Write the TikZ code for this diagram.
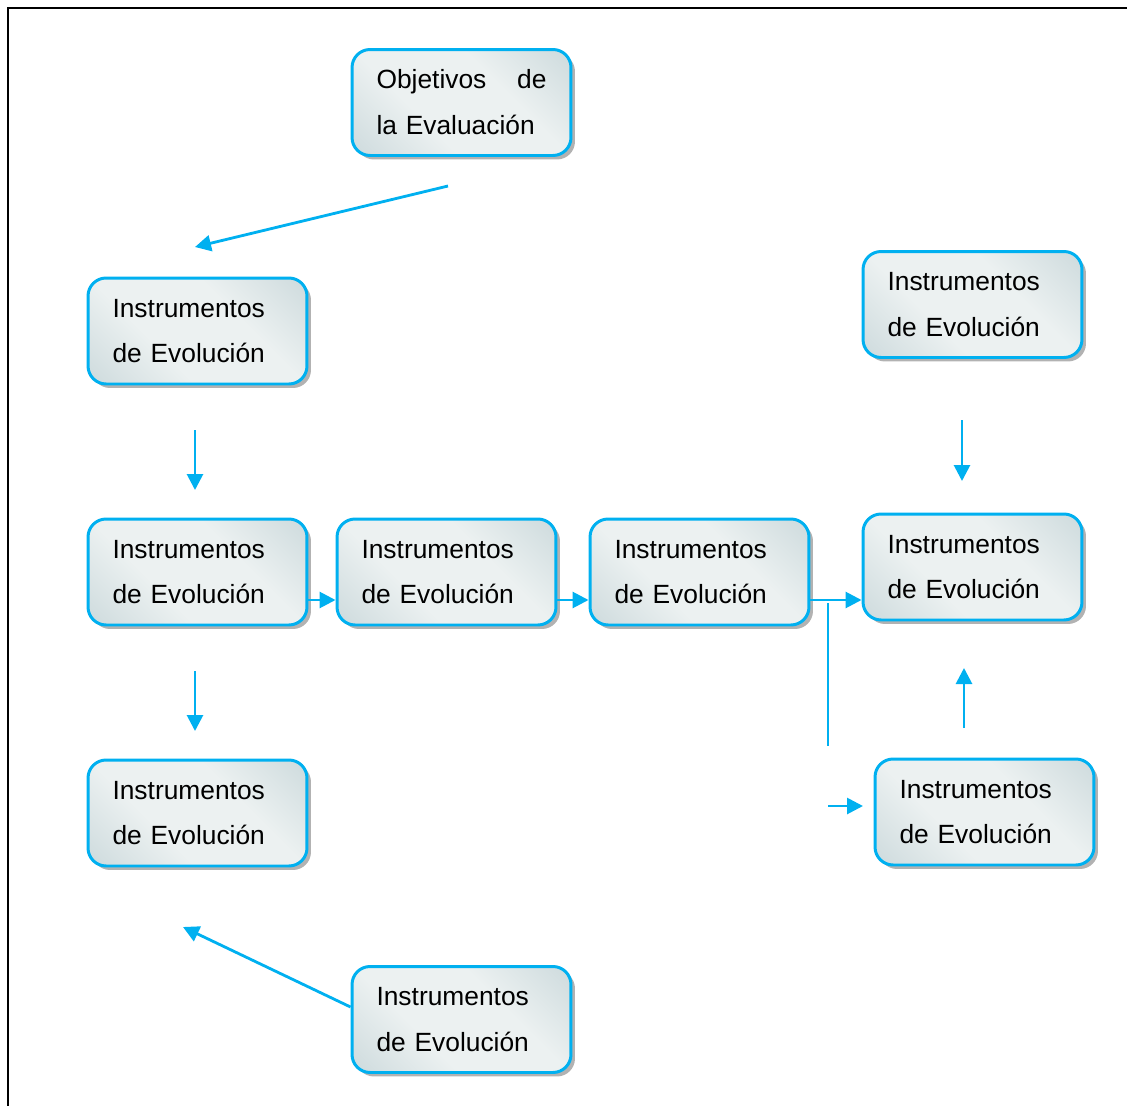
\documentclass[tikz,border=0pt]{standalone}
\usepackage{fontspec}
\setmainfont{Liberation Sans}
\usetikzlibrary{arrows.meta, shadows}
\definecolor{boxedge}{RGB}{0, 176, 240}
\definecolor{boxdark}{RGB}{186, 204, 208}
\definecolor{boxlight}{RGB}{236, 241, 241}
\pgfdeclarehorizontalshading{boxshade}{100bp}{color(0bp)=(boxdark); color(38bp)=(boxlight); color(62bp)=(boxlight); color(100bp)=(boxdark)}

\begin{document}
\begin{tikzpicture}[x=0.02cm, y=-0.02cm,
  evobox/.style={draw=boxedge, line width=1.7pt, rounded corners=0.36cm,
    shading=boxshade, shading angle=45,
    minimum width=4.38cm, minimum height=2.12cm, text width=3.4cm,
    inner xsep=0.49cm, align=left, font=\fontsize{15}{26.1}\selectfont,
    drop shadow={shadow xshift=0.08cm, shadow yshift=-0.08cm, fill=gray!60, opacity=1}},
  flow/.style={boxedge, line width=1.6pt, -{Triangle[length=0.32cm, width=0.32cm]}},
  bare/.style={boxedge, line width=1.6pt}]
  \useasboundingbox (0,0) rectangle (1127,1106);
  \draw[line width=1.2pt] (8,1106) -- (8,8) -- (1127,8);

  % boxes
  \node[evobox] (obj) at (461.5,102.5) {Objetivos\hfill de\\la Evaluación};
  \node[evobox] (left1) at (197.5,331) {Instrumentos\\de Evolución};
  \node[evobox] (left2) at (197.5,572) {Instrumentos\\de Evolución};
  \node[evobox] (mid1) at (446.5,572) {Instrumentos\\de Evolución};
  \node[evobox] (mid2) at (699.5,572) {Instrumentos\\de Evolución};
  \node[evobox] (right1) at (972.5,304.5) {Instrumentos\\de Evolución};
  \node[evobox] (right2) at (972.5,567) {Instrumentos\\de Evolución};
  \node[evobox] (left3) at (197.5,813) {Instrumentos\\de Evolución};
  \node[evobox] (right3) at (984.5,812) {Instrumentos\\de Evolución};
  \node[evobox] (bottom) at (461.5,1019.5) {Instrumentos\\de Evolución};

  % loose arrow ends
  \coordinate (a1) at (448,186);
  \coordinate (a2) at (195,247);
  \coordinate (b1) at (195,430);
  \coordinate (b2) at (195,490);
  \coordinate (c1) at (195,671);
  \coordinate (c2) at (195,731);
  \coordinate (d1) at (962,420);
  \coordinate (d2) at (962,481);
  \coordinate (e1) at (964,728);
  \coordinate (e2) at (964,668);
  \coordinate (f1) at (828,603);
  \coordinate (f2) at (828,746);
  \coordinate (g1) at (828,806);
  \coordinate (g2) at (863,806);
  \coordinate (h2) at (183,927);

  % arrows
  \draw[flow] (a1) -- (a2);
  \draw[flow] (b1) -- (b2);
  \draw[flow] (c1) -- (c2);
  \draw[flow] (d1) -- (d2);
  \draw[flow] (e1) -- (e2);
  \draw[flow] (g1) -- (g2);
  \draw[bare] (f1) -- (f2);
  \draw[flow] ([yshift=-0.56cm]left2.east) -- ([yshift=-0.56cm]mid1.west);
  \draw[flow] ([yshift=-0.56cm]mid1.east) -- ([yshift=-0.56cm]mid2.west);
  \draw[flow] ([yshift=-0.56cm]mid2.east) -- ([yshift=-0.56cm]mid2.east -| right2.west);
  \draw[flow] ([yshift=0.25cm]bottom.west) -- (h2);
\end{tikzpicture}
\end{document}
